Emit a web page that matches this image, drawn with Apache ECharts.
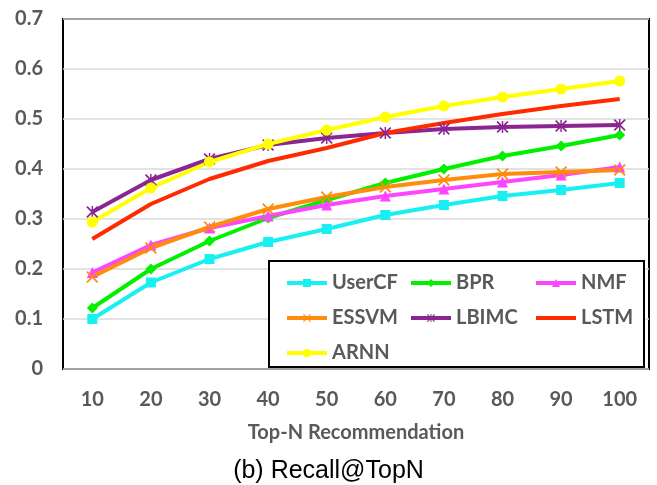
<!DOCTYPE html>
<html>
<head>
<meta charset="UTF-8">
<title>Recall@TopN</title>
<script src="https://cdn.jsdelivr.net/npm/echarts@6/dist/echarts.min.js"></script>
<style>
  html, body { margin: 0; padding: 0; background: #fff; }
  #chart { width: 657px; height: 485px; }
</style>
</head>
<body>
<div id="chart"></div>
<script>
// data
const topN = ['10', '20', '30', '40', '50', '60', '70', '80', '90', '100'];
const userCF = [0.100, 0.173, 0.220, 0.254, 0.280, 0.308, 0.328, 0.346, 0.358, 0.372];
const bpr    = [0.122, 0.200, 0.256, 0.302, 0.338, 0.372, 0.400, 0.426, 0.446, 0.468];
const nmf    = [0.193, 0.248, 0.282, 0.306, 0.328, 0.346, 0.360, 0.374, 0.388, 0.404];
const essvm  = [0.184, 0.242, 0.284, 0.320, 0.344, 0.364, 0.378, 0.390, 0.394, 0.398];
const lbimc  = [0.314, 0.378, 0.420, 0.448, 0.462, 0.472, 0.480, 0.484, 0.486, 0.488];
const lstm   = [0.260, 0.330, 0.380, 0.416, 0.442, 0.472, 0.492, 0.510, 0.526, 0.540];
const arnn   = [0.294, 0.362, 0.414, 0.450, 0.478, 0.504, 0.526, 0.544, 0.560, 0.576];

const xShape = 'path://M0,1L1,0L5,4L9,0L10,1L6,5L10,9L9,10L5,6L1,10L0,9L4,5Z';
const starShape = 'path://M0,1L1,0L5,4L9,0L10,1L6,5L10,9L9,10L5,6L1,10L0,9L4,5Z M4.4,0H5.6V10H4.4Z';

const labelFont = { color: '#595959', fontWeight: 'bold', fontSize: 20, fontFamily: 'Lato' };

function mk(name, data, color, symbol, size) {
  return {
    name: name, type: 'line', data: data,
    symbol: symbol, symbolSize: size, showSymbol: symbol !== 'none',
    lineStyle: { color: color, width: 4 },
    itemStyle: { color: color },
    animation: false
  };
}

const chart = echarts.init(document.getElementById('chart'));
const legendBase = {
  orient: 'vertical', itemWidth: 40, itemHeight: 10, itemGap: 15,
  top: 268, textStyle: labelFont, selectedMode: false,
  lineStyle: { width: 4 }
};
chart.setOption({
  grid: { left: 63, right: 8, top: 19, bottom: 116, show: true, borderColor: '#000', borderWidth: 2 },
  xAxis: {
    type: 'category', data: topN, boundaryGap: true,
    axisLine: { show: false }, axisTick: { show: false },
    axisLabel: Object.assign({ margin: 21 }, labelFont),
    name: 'Top-N Recommendation', nameLocation: 'middle', nameGap: 54,
    nameTextStyle: labelFont
  },
  yAxis: {
    type: 'value', min: 0, max: 0.7, interval: 0.1,
    axisLine: { show: false }, axisTick: { show: false },
    axisLabel: Object.assign({ margin: 20 }, labelFont),
    splitLine: { lineStyle: { color: '#d9d9d9', width: 1.5 } }
  },
  title: {
    text: '(b) Recall@TopN', left: 'center', top: 454,
    textStyle: { color: '#000', fontWeight: 'normal', fontSize: 25, fontFamily: 'Liberation Sans' }
  },
  graphic: [{
    type: 'rect', left: 268, top: 260,
    shape: { width: 375, height: 106 },
    style: { fill: '#fff', stroke: '#000', lineWidth: 2 }, z: 5
  }],
  legend: [
    Object.assign({ left: 280, data: ['UserCF', 'ESSVM', 'ARNN'], z: 10 }, legendBase),
    Object.assign({ left: 404, data: ['BPR', 'LBIMC'], z: 10 }, legendBase),
    Object.assign({ left: 529, data: ['NMF', { name: 'LSTM', icon: 'path://M0,0H40V4H0Z' }], z: 10 }, legendBase)
  ],
  series: [
    mk('UserCF', userCF, '#17f0f0', 'rect', 10),
    mk('BPR', bpr, '#00f000', 'diamond', 11),
    mk('NMF', nmf, '#ff44ff', 'triangle', 11),
    mk('ESSVM', essvm, '#ff8c0a', xShape, 12),
    mk('LBIMC', lbimc, '#8a2591', starShape, 12),
    mk('LSTM', lstm, '#ff2a00', 'none', 0),
    mk('ARNN', arnn, '#ffff00', 'circle', 11)
  ]
});
</script>
</body>
</html>
